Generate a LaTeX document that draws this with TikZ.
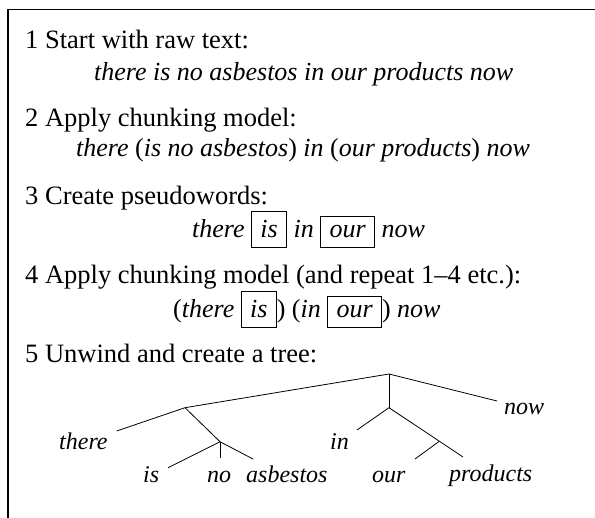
\documentclass[tikz,border=0pt]{standalone}
\usepackage{fontspec}
\setmainfont{Liberation Serif}
\newcommand\pwbox[1]{{\setlength\fboxsep{8.5pt}\setlength\fboxrule{0.8pt}\fbox{\itshape #1}}}
\tikzset{
  head/.style={font=\fontsize{26.5}{30}\selectfont, inner sep=0pt, anchor=base west},
  txt/.style={font=\fontsize{26}{30}\selectfont, inner sep=0pt, anchor=base west},
  leaf/.style={font=\fontsize{24}{28}\selectfont\itshape, inner sep=0pt, anchor=base west},
  branch/.style={line width=0.8pt},
  frameline/.style={line width=1.4pt},
}
\begin{document}
\begin{tikzpicture}[x=1pt,y=-1pt]
\useasboundingbox (0,0) rectangle (595,518);
\coordinate (fb) at (8,518);
\coordinate (fc) at (8,9.5);
\coordinate (fr) at (595,9.5);
\draw[frameline] (fb) -- (fc) -- (fr);

\node[head] (h1) at (25,49) {1 Start with raw text:};
\node[txt] (l1) at (94,81) {\textit{there is no asbestos in our products now}};
\node[head] (h2) at (25,127) {2 Apply chunking model:};
\node[txt] (l2) at (76,157) {\textit{there} (\textit{is no asbestos}) \textit{in} (\textit{our products}) \textit{now}};
\node[head] (h3) at (25,205) {3 Create pseudowords:};
\node[txt] (l3) at (192,238) {\textit{there} \pwbox{is} \textit{in} \pwbox{our} \textit{now}};
\node[head] (h4) at (25,284) {4 Apply chunking model (and repeat 1--4 etc.):};
\node[txt] (l4) at (173,318) {(\textit{there} \pwbox{is}) (\textit{in} \pwbox{our}) \textit{now}};
\node[head] (h5) at (25,363) {5 Unwind and create a tree:};

% tree
\coordinate (R) at (389,374);
\coordinate (A) at (185,407.7);
\coordinate (B) at (220,441.7);
\coordinate (C) at (389,407.7);
\coordinate (D) at (439,441.5);
\coordinate (eThere) at (116.7,431);
\coordinate (eIs) at (168,467.7);
\coordinate (eNo) at (220,458);
\coordinate (eAsb) at (253,459);
\coordinate (eIn) at (357,430);
\coordinate (eProd) at (463,457);
\coordinate (eOur) at (415,459);
\coordinate (eNow) at (497,401);

\draw[branch] (R) -- (A);
\draw[branch] (A) -- (eThere);
\draw[branch] (A) -- (B);
\draw[branch] (B) -- (eIs);
\draw[branch] (B) -- (eNo);
\draw[branch] (B) -- (eAsb);
\draw[branch] (R) -- (C);
\draw[branch] (R) -- (eNow);
\draw[branch] (C) -- (eIn);
\draw[branch] (C) -- (eProd);
\draw[branch] (D) -- (eOur);

\node[leaf] (there) at (59,450) {there};
\node[leaf] (is) at (143,483) {is};
\node[leaf] (no) at (207,483) {no};
\node[leaf] (asbestos) at (246,483) {asbestos};
\node[leaf] (in) at (330,450) {in};
\node[leaf] (our) at (372,483) {our};
\node[leaf] (products) at (449,482) {products};
\node[leaf] (now) at (504,415) {now};
\end{tikzpicture}
\end{document}
